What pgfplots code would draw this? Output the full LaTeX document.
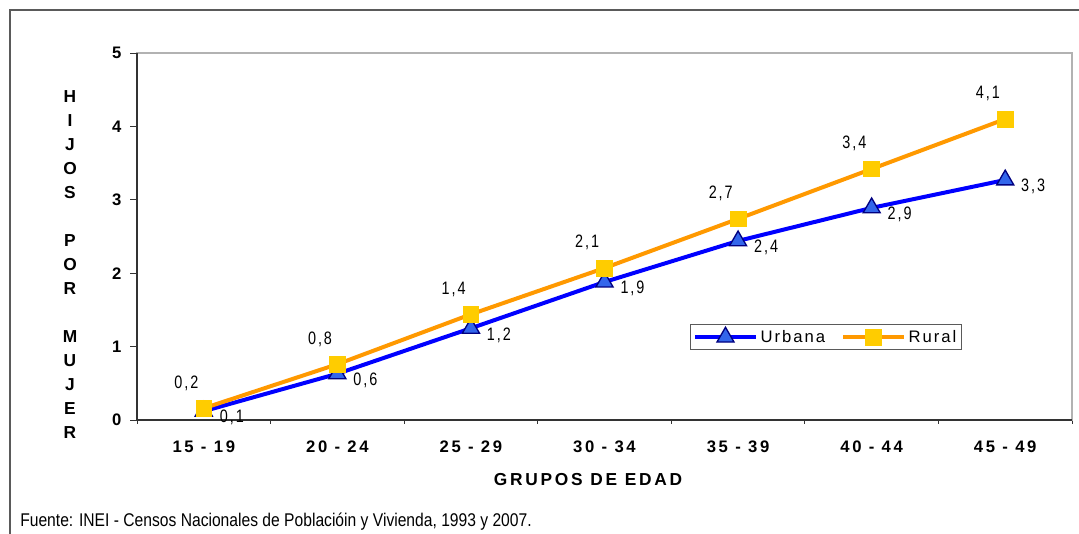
\documentclass[border=0pt]{standalone}
\usepackage{fontspec}
\setmainfont{Liberation Sans}
\newfontfamily\narrowfont[FakeStretch=0.8,LetterSpace=11]{Liberation Sans}
\newfontfamily\spacedfont[LetterSpace=16]{Liberation Sans}
\newfontfamily\legfont[LetterSpace=12]{Liberation Sans}
\newfontfamily\srcfont[FakeStretch=0.85]{Liberation Sans}
\usepackage{pgfplots}
\pgfplotsset{compat=1.18}

\definecolor{urbline}{RGB}{0,0,255}
\definecolor{urbfill}{RGB}{51,102,235}
\definecolor{urbdraw}{RGB}{0,0,128}
\definecolor{rurline}{RGB}{255,153,0}
\definecolor{rurfill}{RGB}{255,204,0}
\definecolor{framegray}{RGB}{90,90,90}

% edad: 0 = 15-19 ... 6 = 45-49
\pgfplotstableread{
x y label
0 0.12 0,1
1 0.63 0,6
2 1.25 1,2
3 1.88 1,9
4 2.44 2,4
5 2.89 2,9
6 3.27 3,3
}\urbana
\pgfplotstableread{
x y label
0 0.16 0,2
1 0.76 0,8
2 1.44 1,4
3 2.07 2,1
4 2.74 2,7
5 3.42 3,4
6 4.10 4,1
}\rural

\begin{document}
\begin{tikzpicture}
\useasboundingbox (0,0) rectangle (809.25pt,400.5pt);
\draw[framegray, line width=1pt] (7.5pt,0) -- (7.5pt,393pt) -- (809.25pt,393pt);

\begin{axis}[
    at={(102.75pt,85.5pt)}, anchor=south west,
    scale only axis, width=701.25pt, height=275.25pt,
    xmin=-0.5, xmax=6.5, ymin=0, ymax=5,
    xtick={0,...,6},
    xticklabels={15 - 19,20 - 24,25 - 29,30 - 34,35 - 39,40 - 44,45 - 49},
    minor xtick={-0.5,0.5,...,6.5},
    ytick={0,1,2,3,4,5},
    tick pos=left,
    tick align=outside,
    major tick length=5.25pt, minor tick length=3pt,
    every major x tick/.append style={draw=none},
    tick style={black!80, line width=0.6pt},
    axis line style={gray!60, line width=1pt},
    /pgf/number format/assume math mode=true,
    yticklabel style={font=\bfseries\fontsize{12.5}{14}\selectfont, xshift=-3pt},
    xticklabel style={font=\spacedfont\bfseries\fontsize{12.5}{14}\selectfont, yshift=-7pt},
    clip=false,
    nodes near coords,
    point meta=explicit symbolic,
    legend style={at={(0.737,0.226)}, anchor=center, draw=framegray, line width=0.6pt,
        font=\legfont\fontsize{12.5}{14}\selectfont, inner sep=2pt,
        /tikz/every even column/.append style={column sep=10pt}},
    legend columns=2,
    legend image code/.code={\draw[mark repeat=2,mark phase=2] plot coordinates {(0cm,0cm)(0.8cm,0cm)(1.6cm,0cm)};},
]
\draw[black!80, line width=1.2pt] (rel axis cs:0,1) -- (rel axis cs:0,0) -- (rel axis cs:1,0);
\addplot[urbline, line width=3pt, mark=triangle*, mark size=7.4pt,
    mark options={fill=urbfill, draw=urbdraw, line width=1pt},
    every node near coord/.append style={anchor=center, xshift=21pt, yshift=-5pt,
        text=black, font=\narrowfont\fontsize{13.5}{15}\selectfont}]
    table[x=x, y=y, meta=label] {\urbana};
\addlegendentry{Urbana}
\addplot[rurline, line width=3pt, mark=square*, mark size=5.9pt,
    mark options={fill=rurfill, draw=rurfill, line width=0.5pt},
    every node near coord/.append style={anchor=center, xshift=-13pt, yshift=19pt,
        text=black, font=\narrowfont\fontsize{13.5}{15}\selectfont}]
    table[x=x, y=y, meta=label] {\rural};
\addlegendentry{Rural}
\end{axis}

\node[font=\bfseries\fontsize{13}{18}\selectfont, align=center] at (52.5pt,202.1pt)
    {H\\I\\J\\O\\S\\\mbox{}\\P\\O\\R\\\mbox{}\\M\\U\\J\\E\\R};
\node[font=\spacedfont\bfseries\fontsize{13}{15}\selectfont] at (441pt,40.5pt) {GRUPOS DE EDAD};
\node[font=\srcfont\fontsize{13.8}{15}\selectfont, anchor=west, inner sep=0pt] at (15pt,9pt)
    {Fuente: INEI - Censos Nacionales de Poblacióin y Vivienda, 1993 y 2007.};
\end{tikzpicture}
\end{document}
